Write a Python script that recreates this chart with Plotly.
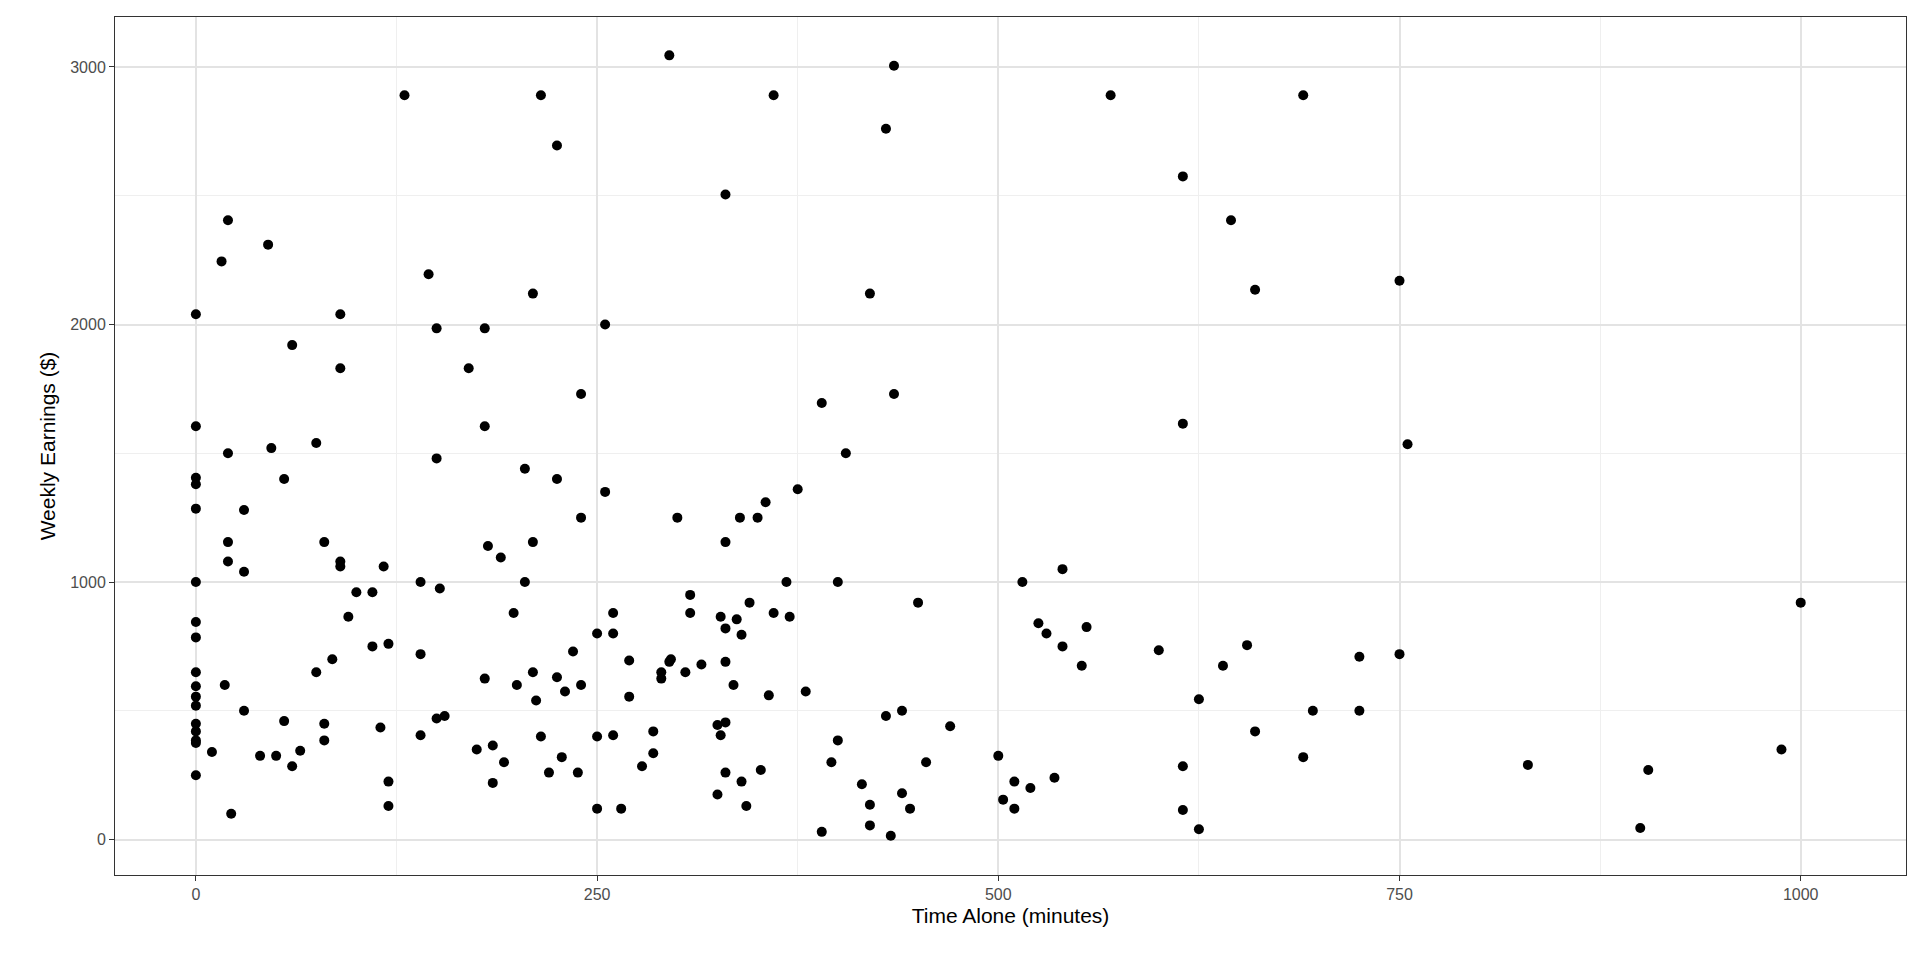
import plotly.graph_objects as go

time_alone = [0]*17 + [10,18,20,20,20,20,16,22,30,30,30,40,45,47,50,55,55,60,60,65,75,75,80,80,80,85,90,90,90,90,95,100,110,110,115,117,120,120,120,130,140,140,140,145,150,150,150,152,155,170,175,180,180,180,182,185,185,190,192,198,200,205,205,210,210,210,212,215,215,220,225,225,225,228,230,235,238,240,240,240,250,250,250,255,255,260,260,260,265,270,270,278,285,285,290,290,295,295,296,300,305,308,308,315,325,325,327,327,330,330,330,330,330,330,335,337,339,340,340,343,345,350,355,352,357,360,360,368,370,375,380,390,390,396,400,400,405,415,420,420,420,430,430,433,435,435,440,440,445,450,455,470,500,503,510,510,515,520,525,530,535,540,540,552,555,570,600,615,615,615,615,625,625,640,645,655,660,660,690,690,696,725,725,750,750,755,830,900,905,988,1000]
earnings = [2040,1605,1405,1380,1285,1000,845,785,650,595,555,520,450,420,385,375,250,
 340,600,1500,1155,1080,2405,2245,100,1280,1040,500,325,2310,1520,325,460,1400,1920,285,345,1540,650,1155,450,385,700,2040,1830,1080,1060,865,960,960,750,435,1060,760,225,130,2890,1000,720,405,2195,1985,1480,470,975,480,1830,350,1985,1605,625,1140,365,220,1095,300,880,600,1440,1000,2120,1155,650,540,2890,400,260,2695,1400,630,320,575,730,260,1730,1250,600,800,400,120,2000,1350,880,800,405,120,695,555,285,420,335,650,625,3045,690,700,1250,650,950,880,680,175,445,405,865,2505,1155,820,690,455,260,600,855,1250,795,225,130,920,1250,1310,270,560,880,2890,1000,865,1360,575,1695,30,300,385,1000,1500,215,2120,135,55,2760,480,15,3005,1730,500,180,120,920,300,440,325,155,225,120,1000,200,840,800,240,1050,750,675,825,2890,735,2575,1615,285,115,40,545,675,2405,755,2135,420,2890,320,500,710,500,2170,720,1535,290,45,270,350,920]

fig = go.Figure(go.Scatter(x=time_alone, y=earnings, mode="markers",
    marker=dict(color="black", size=10), hoverinfo="skip"))
ax = dict(showgrid=True, gridcolor="#E3E3E3", gridwidth=1.6, zeroline=False,
          showline=True, linecolor="#333333", linewidth=1, mirror=True,
          ticks="outside", ticklen=5, tickcolor="#333333",
          tickfont=dict(family="Liberation Sans, Arial", size=16, color="#4D4D4D"),
          minor=dict(showgrid=True, gridcolor="#EFEFEF", gridwidth=1))
fig.update_layout(width=1920, height=960, plot_bgcolor="white", paper_bgcolor="white",
    margin=dict(l=107, r=22, t=9, b=93), showlegend=False,
    font=dict(family="Liberation Sans, Arial", color="black"),
    xaxis=dict(ax, range=[-50.4, 1065.6], tickvals=[0,250,500,750,1000], minor=dict(ax["minor"], dtick=125, tick0=125),
               title=dict(text="Time Alone (minutes)", font=dict(size=21), standoff=6)),
    yaxis=dict(ax, range=[-137.6, 3194], tickvals=[0,1000,2000,3000], minor=dict(ax["minor"], dtick=500, tick0=500),
               title=dict(text="Weekly Earnings ($)", font=dict(size=21), standoff=8)))
fig.write_html("out.html")
